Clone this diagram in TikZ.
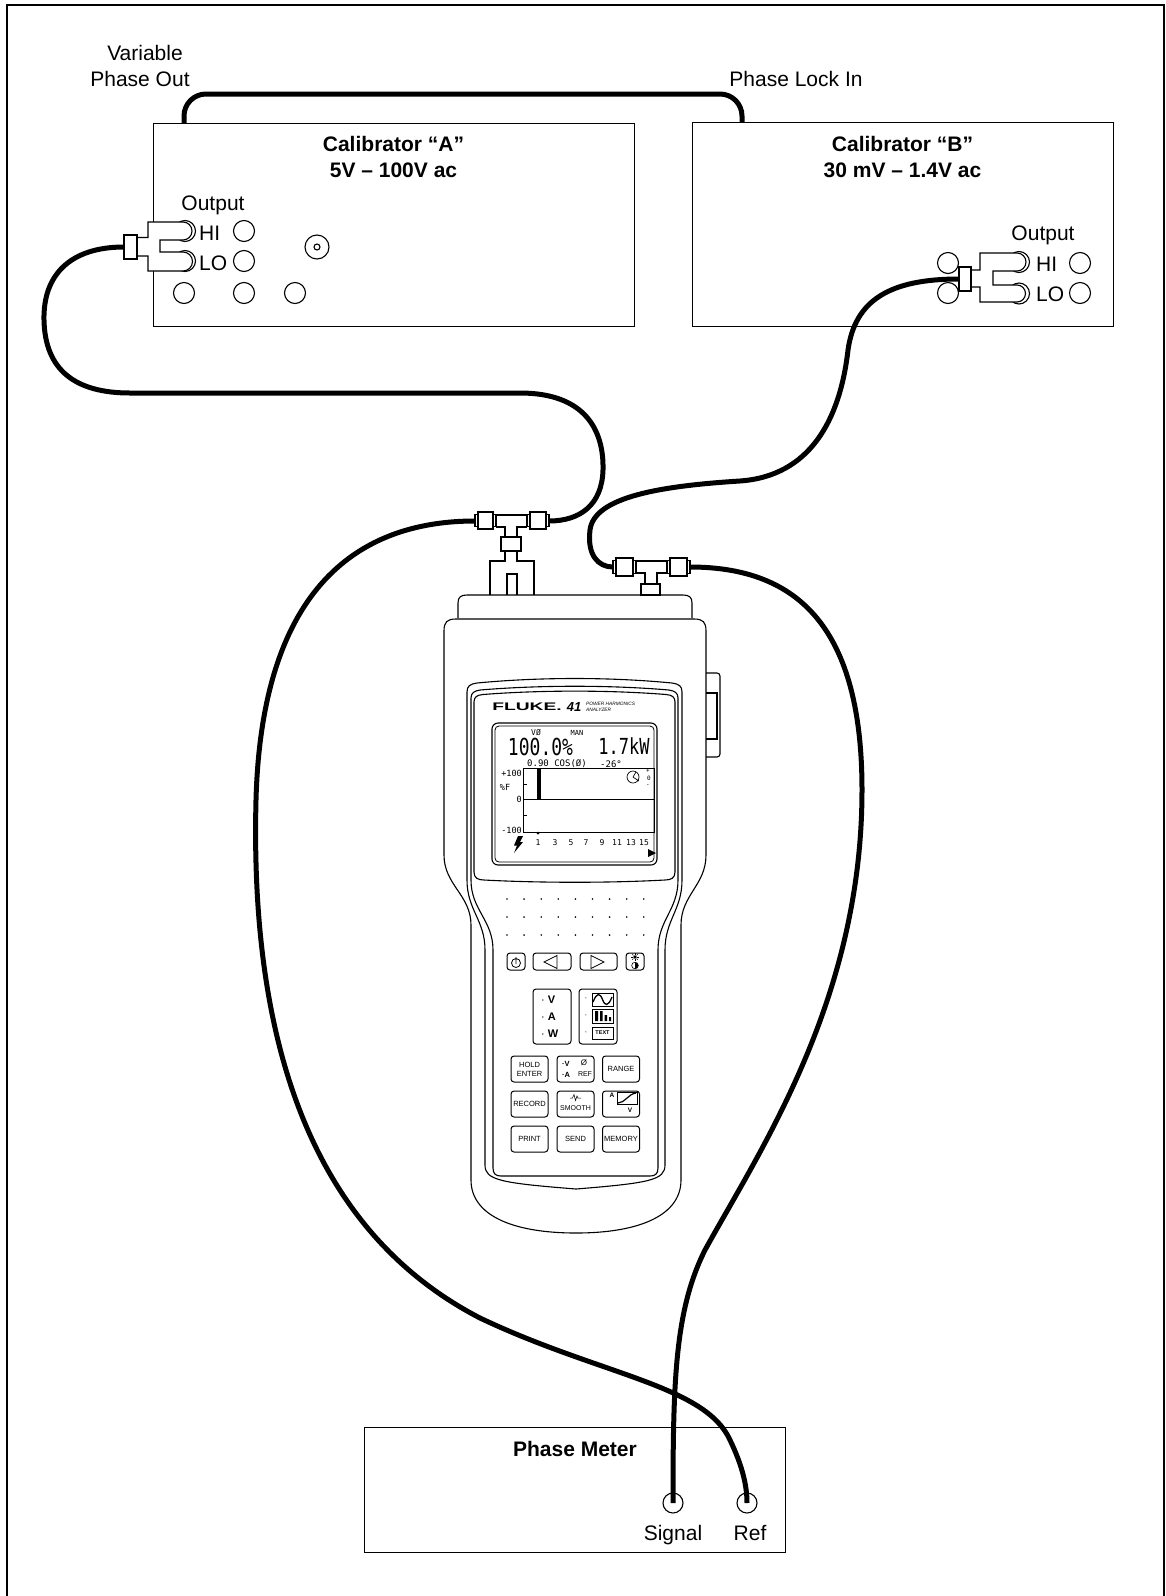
\documentclass[tikz,border=0pt]{standalone}
\usepackage{fontspec}
\setmainfont{Liberation Sans}
\newfontfamily\lcdfont{DejaVu Sans Mono}
\tikzset{
  devbox/.style={draw,line width=1.3pt,inner sep=0pt,anchor=north west},
  cable/.style={line width=5pt},
  plug/.style={draw,line width=1.1pt,fill=white},
  outl/.style={line width=1.1pt},
  lbl/.style={font=\fontsize{21}{26}\selectfont,inner sep=0pt,anchor=base},
  ttl/.style={font=\bfseries\fontsize{21}{27}\selectfont,inner sep=0pt,anchor=base},
  jack/.style={draw,line width=1.1pt,circle,inner sep=0pt,minimum size=21pt},
  keycap/.style={draw,line width=1pt,rounded corners=3pt,inner sep=0pt,align=center,
    font=\fontsize{7.5}{9}\selectfont,minimum width=37pt,minimum height=26pt},
  lcd/.style={font=\lcdfont\fontsize{9}{9}\selectfont,inner sep=0pt}
}
\begin{document}
\begin{tikzpicture}[x=1pt,y=-1pt]
\useasboundingbox (0,0) rectangle (1166,1596);
\draw[line width=2pt] (7,1596) -- (7,5) -- (1164,5) -- (1164,1596);

\node[devbox,minimum width=481pt,minimum height=203pt] (calA) at (153,123) {};
\node[devbox,minimum width=421pt,minimum height=204pt] (calB) at (692,122) {};
\node[devbox,minimum width=421pt,minimum height=125pt] (pm) at (364,1427) {};
\node[ttl] (calAname) at (393.5,151) {Calibrator “A”};
\node[ttl] (calArange) at (393.5,177.5) {5V – 100V ac};
\node[ttl] (calBname) at (902.5,151) {Calibrator “B”};
\node[ttl] (calBrange) at (902.5,177.5) {30 mV – 1.4V ac};
\node[ttl] (pmname) at (575,1456) {Phase Meter};
\node[lbl] (varout1) at (145,60) {Variable};
\node[lbl] (varout2) at (140,86) {Phase Out};
\node[lbl] (lockin) at (796,86.5) {Phase Lock In};

\coordinate (varpt) at (184,123);
\coordinate (lockpt) at (742,122);
\draw[cable,rounded corners=22pt] (varpt) -- (184,94) -- (742,94) -- (lockpt);

\node[lbl] (outA) at (213,210.5) {Output};
\foreach \p [count=\i] in {(244,231),(244,261),(184,293),(244,293),(295,293)}
  \node[jack] (jA\i) at \p {};
\node[jack,minimum size=24pt] (coax) at (317,247) {};
\draw[outl] (coax.center) circle (3);
\node[jack] (hiA) at (185,231) {};
\node[jack] (loA) at (185,261) {};
\node[lbl,anchor=base west] (hiAt) at (199,240) {HI};
\node[lbl,anchor=base west] (loAt) at (199,270.5) {LO};

\node[lbl] (outB) at (1043,240) {Output};
\foreach \p [count=\i] in {(948,263),(948,293),(1080,263),(1080,293)}
  \node[jack] (jB\i) at \p {};
\node[jack] (hiB) at (1019,262) {};
\node[jack] (loB) at (1019,293.5) {};
\node[lbl,anchor=base west] (hiBt) at (1036,271.5) {HI};
\node[lbl,anchor=base west] (loBt) at (1036,301.5) {LO};

\node[jack,minimum size=20pt] (sigjack) at (673,1503) {};
\node[jack,minimum size=20pt] (refjack) at (747,1503) {};
\node[lbl] (sigt) at (673,1540) {Signal};
\node[lbl] (reft) at (750,1540) {Ref};

\coordinate (plugA) at (124,247);
\coordinate (plugB) at (959,279);
\coordinate (tAref) at (475,521);
\coordinate (tAin) at (549,521);
\coordinate (tBin) at (613,567);
\coordinate (tBsig) at (690,567);

\draw[cable] (plugA) .. controls (70,247) and (43,275) .. (44,320)
  .. controls (45,370) and (75,393) .. (130,393) -- (520,393)
  .. controls (585,393) and (604,430) .. (603,470)
  .. controls (602,505) and (580,521) .. (tAin);
\draw[cable] (tAref) .. controls (370,521) and (262,575) .. (256,800)
  .. controls (250,1040) and (310,1230) .. (480,1318)
  .. controls (600,1375) and (705,1385) .. (730,1440)
  .. controls (742,1465) and (747,1485) .. (refjack.center);
\draw[cable] (plugB) .. controls (890,279) and (855,300) .. (848,350)
  .. controls (840,420) and (810,476) .. (740,481)
  .. controls (660,486) and (594,497) .. (590,530)
  .. controls (587,555) and (598,567) .. (tBin);
\draw[cable] (tBsig) .. controls (800,567) and (862,630) .. (862,790)
  .. controls (862,1000) and (760,1150) .. (705,1250)
  .. controls (675,1310) and (673,1380) .. (sigjack.center);

\draw[plug] (137,237.5) -- (148,237.5) -- (148,222) -- (183,222)
  arc[start angle=-90,end angle=90,radius=9] -- (160,240) -- (160,252) -- (183,252)
  arc[start angle=-90,end angle=90,radius=9.5] -- (148,271) -- (148,256) -- (137,256) -- cycle;
\draw[plug] (124,235) rectangle (137,259);
\draw[plug] (971,270) -- (980,270) -- (980,253) -- (1017,253)
  arc[start angle=-90,end angle=90,radius=9] -- (993,271) -- (993,285) -- (1017,285)
  arc[start angle=-90,end angle=90,radius=8.5] -- (980,302) -- (980,287) -- (971,287) -- cycle;
\draw[plug] (959,267) rectangle (971,291);

\draw[plug] (478,512) rectangle (493,529);
\draw[plug] (475,514.5) rectangle (478,526.5);
\draw[plug] (493,514.5) rectangle (496,526.5);
\draw[plug] (530,512) rectangle (546,529);
\draw[plug] (527,514.5) rectangle (530,526.5);
\draw[plug] (546,514.5) rectangle (549,526.5);
\draw[outl] (496,515) -- (527,515) (496,527) -- (505,527) -- (505,537)
  (517,537) -- (517,527) -- (527,527);
\draw[plug] (501,537) rectangle (521,551);
\draw[outl] (505,551) -- (505,561) -- (490,561) -- (490,595)
  (517,551) -- (517,561) -- (534,561) -- (534,595)
  (507,595) -- (507,574) -- (517,574) -- (517,595);

\draw[plug] (616,558) rectangle (633,576);
\draw[plug] (613,560.5) rectangle (616,573.5);
\draw[plug] (633,560.5) rectangle (636,573.5);
\draw[plug] (670,558) rectangle (687,576);
\draw[plug] (667,560.5) rectangle (670,573.5);
\draw[plug] (687,560.5) rectangle (690,573.5);
\draw[outl] (636,561) -- (667,561) (636,573) -- (645,573) -- (645,584)
  (657,584) -- (657,573) -- (667,573);
\draw[plug] (641,584) rectangle (660,595);

\draw[outl] (458,618) -- (458,603) .. controls (458,597) and (461,595) .. (467,595)
  -- (683,595) .. controls (689,595) and (692,597) .. (692,603) -- (692,618);
\draw[outl] (444,855) -- (444,631) .. controls (444,622) and (447,619) .. (456,619)
  -- (694,619) .. controls (703,619) and (706,622) .. (706,631) -- (706,855)
  .. controls (706,885) and (681,895) .. (681,925) -- (681,1180)
  .. controls (681,1215) and (640,1233) .. (576,1233)
  .. controls (512,1233) and (471,1215) .. (471,1180) -- (471,925)
  .. controls (471,895) and (444,885) .. (444,855) -- cycle;
\draw[outl,rounded corners=3pt] (706,673) -- (720,673) -- (720,757) -- (706,757);
\draw[outl] (706,693) -- (717,693) -- (717,739) -- (706,739);

\draw[outl] (467,880) -- (467,692) .. controls (467,686) and (470,684) .. (477,683)
  .. controls (540,677) and (610,677) .. (672,683) .. controls (679,684) and (682,686) .. (682,692)
  -- (682,880) .. controls (682,910) and (665,920) .. (665,950) -- (665,1165)
  .. controls (665,1180) and (650,1183) .. (576,1189)
  .. controls (500,1183) and (485,1180) .. (485,1165) -- (485,950)
  .. controls (485,920) and (467,910) .. (467,880) -- cycle;
\draw[outl] (471,880) -- (471,698) .. controls (471,693) and (474,691) .. (480,690)
  .. controls (540,685) and (610,685) .. (669,690) .. controls (675,691) and (678,693) .. (678,698)
  -- (678,880) .. controls (678,910) and (658,920) .. (658,950) -- (658,1168)
  .. controls (658,1174) and (655,1176) .. (650,1176) -- (501,1176)
  .. controls (496,1176) and (493,1174) .. (493,1168) -- (493,950)
  .. controls (493,920) and (471,910) .. (471,880) -- cycle;
\draw[outl] (474,872) -- (474,702) .. controls (474,697) and (477,695) .. (483,694.5)
  .. controls (540,690) and (610,690) .. (666,694.5) .. controls (672,695) and (675,697) .. (675,702)
  -- (675,872) .. controls (675,878) and (671,880) .. (665,880)
  .. controls (610,883) and (540,883) .. (484,880) .. controls (478,880) and (474,878) .. (474,872) -- cycle;
\draw[outl,rounded corners=6pt] (492,723) rectangle (657,865);
\draw[line width=0.8pt,rounded corners=4pt] (495,726) rectangle (654,862);

\node[inner sep=0pt,font=\bfseries\fontsize{11}{11}\selectfont] (logo) at (527,707)
  {\scalebox{1.75}[1]{FLUKE.}};
\node[inner sep=0pt,font=\bfseries\itshape\fontsize{13}{13}\selectfont] (model) at (574,707) {41};
\node[inner sep=0pt,anchor=south west,font=\itshape\fontsize{4.8}{5}\selectfont] (kind1) at (586,705.5) {POWER HARMONICS};
\node[inner sep=0pt,anchor=north west,font=\itshape\fontsize{4.8}{5}\selectfont] (kind2) at (586,707.5) {ANALYZER};

\node[lcd,font=\lcdfont\fontsize{8}{8}\selectfont] (vphi) at (536,733) {VØ};
\node[lcd,font=\lcdfont\fontsize{7}{7}\selectfont] (man) at (577,733) {MAN};
\node[lcd,font=\lcdfont\fontsize{18}{18}\selectfont] (pct) at (540.5,746.5) {\scalebox{1}[1.3]{100.0\%}};
\node[lcd,font=\lcdfont\fontsize{17}{17}\selectfont] (kw) at (624,746.5) {\scalebox{1}[1.3]{1.7kW}};
\node[lcd] (cos) at (557,764) {0.90 COS(Ø)};
\node[lcd] (deg) at (611,764) {-26°};
\draw[line width=0.9pt] (523,768) rectangle (654,832) (523,799) -- (654,799)
  (523,784) -- (527,784) (523,815) -- (527,815);
\fill (537,768) rectangle (541,799);
\node[lcd,anchor=east,font=\lcdfont\fontsize{8.5}{8.5}\selectfont] (ptop) at (522,773) {+100};
\node[lcd,font=\lcdfont\fontsize{8.5}{8.5}\selectfont] (pf) at (505,787) {\%F};
\node[lcd,anchor=east,font=\lcdfont\fontsize{8.5}{8.5}\selectfont] (pzero) at (522,799) {0};
\node[lcd,anchor=east,font=\lcdfont\fontsize{8.5}{8.5}\selectfont] (pbot) at (522,830) {-100};
\draw[line width=0.7pt] (633,777) circle (6) (633,777) -- (639,781) (633,777) -- (636,772);
\node[lcd,font=\lcdfont\fontsize{6}{6}\selectfont] (cplus) at (648,771) {+};
\node[lcd,font=\lcdfont\fontsize{6}{6}\selectfont] (czero) at (649,778) {0};
\node[lcd,font=\lcdfont\fontsize{6}{6}\selectfont] (cminus) at (648,786) {-};
\fill (538,833) circle (1.5);
\foreach \x/\n [count=\i] in {538/1,555/3,571/5,586/7,602/9,617/11,631/13,644/15}
  \node[lcd,font=\lcdfont\fontsize{8}{8}\selectfont] (h\i) at (\x,843) {\n};
\fill (518,836) -- (523,836) -- (520,842) -- (523,842) -- (514,853) -- (517,845.5) -- (514,845.5) -- cycle;
\fill (648,849) -- (656,853) -- (648,857) -- cycle;

\foreach \i in {0,...,8}
  \foreach \j in {899,917,935}
    \fill (507+17.1*\i,\j) circle (0.9);

\node[keycap,minimum width=18pt,minimum height=17pt] (kpow) at (516,961.5) {};
\node[keycap,minimum width=38pt,minimum height=17pt] (kleft) at (552,961.5) {};
\node[keycap,minimum width=37pt,minimum height=17pt] (kright) at (598.5,961.5) {};
\node[keycap,minimum width=18pt,minimum height=17pt] (klight) at (635,961.5) {};
\draw[line width=0.8pt] (516,963) circle (4.5) (516,957) -- (516,964);
\draw[line width=0.8pt] (544,962) -- (557,955.5) -- (557,968.5) -- cycle;
\draw[line width=0.8pt] (591,955.5) -- (604,962) -- (591,968.5) -- cycle;
\fill (635,957) circle (1.8);
\foreach \a in {0,45,...,315}
  \draw[line width=0.6pt] (635,957) ++(\a:2.2) -- ++(\a:1.6);
\draw[line width=0.6pt] (635,965.5) circle (3.3);
\fill (635,962.2) arc[start angle=-90,end angle=90,radius=3.3] -- cycle;

\node[keycap,minimum width=38pt,minimum height=55pt] (kvaw) at (552,1016.5) {};
\node[keycap,minimum width=38pt,minimum height=55pt] (kmode) at (598,1016.5) {};
\foreach \y/\t [count=\i] in {1000/V,1017/A,1034/W}
  \node[inner sep=0pt,anchor=west,font=\bfseries\fontsize{11}{11}\selectfont] (vaw\i) at (541,\y) {{\mdseries·} \t};
\foreach \y [count=\i] in {999.5,1016,1033}
  \node[inner sep=0pt,font=\fontsize{8}{8}\selectfont] (md\i) at (586,\y) {·};
\draw[line width=0.8pt] (592,993) rectangle (613,1006) (592,1009) rectangle (613,1023) (592,1027) rectangle (613,1039);
\draw[line width=1.3pt] (593,1002) .. controls (597,992) and (600,993) .. (602.5,999.5)
  .. controls (605,1006) and (608,1007) .. (612,997);
\fill (595,1011) rectangle (598,1021) (600,1011) rectangle (602.5,1021) (604.5,1015) rectangle (607,1021) (609,1017) rectangle (611,1021);
\node[inner sep=0pt,font=\bfseries\fontsize{5.5}{5.5}\selectfont] (txt) at (602.5,1033) {TEXT};

\foreach \x/\y/\t/\n in {529.5/1069/{HOLD\\ENTER}/khold, 621/1069/RANGE/krange,
    529.5/1104/RECORD/krec, 529.5/1139/PRINT/kprint, 575.5/1139/SEND/ksend, 621/1139/MEMORY/kmem}
  \node[keycap] (\n) at (\x,\y) {\t};
\node[keycap] (kref) at (575.5,1069) {};
\node[keycap] (ksmooth) at (575.5,1104) {};
\node[keycap] (kscope) at (621,1104) {};
\node[inner sep=0pt,anchor=west,font=\bfseries\fontsize{7.5}{7.5}\selectfont] (refv) at (562,1064) {·V};
\node[inner sep=0pt,anchor=west,font=\bfseries\fontsize{7.5}{7.5}\selectfont] (refa) at (562,1075) {·A};
\node[inner sep=0pt,font=\fontsize{8}{8}\selectfont] (refphi) at (584,1063) {Ø};
\node[inner sep=0pt,font=\fontsize{7}{7}\selectfont] (reft2) at (585,1074) {REF};
\draw[line width=0.5pt] (570,1098) -- (572.5,1098) -- (574,1094.5) -- (575.5,1100.5) -- (577,1096) -- (578,1098) -- (581,1098);
\node[inner sep=0pt,font=\fontsize{7}{7}\selectfont] (smt) at (575.5,1108) {SMOOTH};
\node[inner sep=0pt,font=\bfseries\fontsize{6.5}{6.5}\selectfont] (scA) at (612,1095) {A};
\draw[line width=0.9pt] (617,1092) rectangle (637,1104);
\draw[line width=1.2pt] (618,1103) .. controls (625,1103) and (628,1094) .. (636,1093);
\node[inner sep=0pt,font=\bfseries\fontsize{6.5}{6.5}\selectfont] (scV) at (630,1110.5) {V};
\end{tikzpicture}
\end{document}
